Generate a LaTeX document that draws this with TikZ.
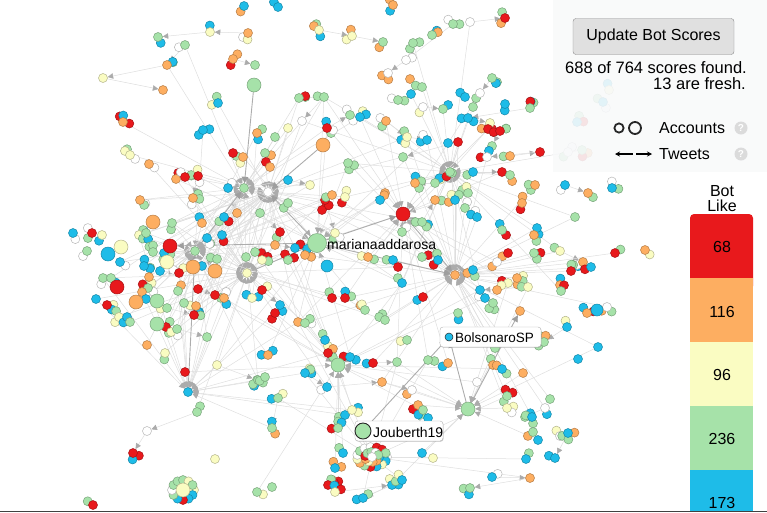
\documentclass[tikz,border=0pt]{standalone}
\usepackage{fontspec}
\setmainfont{Liberation Sans}
\usetikzlibrary{arrows.meta,shadows}

\definecolor{botr}{HTML}{E8191C}
\definecolor{boto}{HTML}{FDAE61}
\definecolor{boty}{HTML}{FAFCC2}
\definecolor{botg}{HTML}{A6E2A9}
\definecolor{botb}{HTML}{1EBCE8}
\definecolor{botw}{HTML}{FFFFFF}
\definecolor{panelbg}{HTML}{F8F9FA}

\pgfdeclarelayer{edges}
\pgfsetlayers{edges,main}
\pgfmathdeclarerandomlist{botmix}{{botr}{boto}{boty}{botg}{botg}{botg}{botb}{botb}{botw}}

\tikzset{
  dot/.style={circle,inner sep=0pt,minimum size=9pt,fill=#1,draw=#1!72!black,line width=0.5pt},
  big/.style={minimum size=14pt},
  tweet/.style={draw=black!13,line width=0.5pt,-{Triangle[length=5.5pt,width=5.5pt,color=black!33]}},
  strong/.style={draw=black!32,line width=0.9pt,-{Triangle[length=6.5pt,width=6.5pt,color=black!38]}},
  tag/.style={fill=white,draw=black!30,rounded corners=3pt,drop shadow={shadow xshift=0.6pt,shadow yshift=-0.8pt,opacity=0.35}},
  ui/.style={font=\fontsize{16}{18}\selectfont},
}

% accounts: x/y/colour
\def\dotlist{244/6/botb,248/33/boto,210/32/boty,158/37/botg,185/45/botg,167/65/boto,
103/78/boty,163/90/boto,233/59/boto,255/65/botg,218/103/botb,123/122/boto,203/130/botb,
257/133/boto,130/155/boty,149/164/boto,243/157/boto,233/153/botr,
278/7/botb,393/5/boto,319/30/boty,352/36/boty,383/42/botg,413/43/botg,432/35/botg,
453/24/botg,406/60/botw,388/73/botw,410/79/boto,411/94/botb,422/87/botg,398/100/botg,
423/107/botw,443/109/botg,299/98/botg,324/97/botg,302/121/botw,288/128/boty,275/137/botg,
327/128/botr,350/115/botg,360/117/botb,386/121/boto,407/137/boty,427/140/botb,448/143/botb,
458/142/botr,403/157/botg,348/163/botg,265/153/botg,
470/22/botw,505/18/botr,492/78/botg,480/93/botw,465/97/botb,473/107/botg,505/104/botb,
530/108/botg,468/118/botb,490/123/boty,488/129/botr,500/131/botr,492/146/botg,510/156/boto,
540/152/botr,487/157/botw,609/90/boty,603/102/botb,577/122/botb,582/150/botg,568/152/botw,
176/179/boto,185/177/botr,198/176/botr,193/198/boto,140/200/boto,228/188/botb,237/213/boto,
224/217/botb,202/223/boto,172/223/botg,73/233/botb,92/233/botr,102/235/boty,207/238/botb,
222/235/botb,139/235/boty,146/233/botg,87/251/botg,120/262/botb,164/253/botb,153/252/botg,
144/266/botb,160/271/botb,179/273/botr,202/266/botb,217/259/botg,246/257/botg,255/252/botg,
103/278/botg,111/278/botg,149/277/boto,148/288/botg,142/292/boto,146/299/botb,96/299/botb,
107/305/botr,178/291/botg,198/289/botr,215/295/botr,224/298/boto,252/298/boty,184/303/botg,
196/306/boto,167/308/botg,194/315/botr,119/317/boty,127/317/botb,130/322/botg,166/327/botr,
177/329/botg,207/337/botg,
147/345/boto,165/353/boty,185/372/botr,217/365/boty,257/380/botg,197/412/botg,147/431/botw,
133/453/botr,215/459/boty,93/505/botr,257/492/botg,
473/172/botb,502/172/botr,510/175/botg,535/185/boto,565/185/botb,588/193/boto,612/188/botb,
468/193/botg,465/208/botg,477/217/botb,522/203/boto,502/230/botg,575/217/botg,537/228/botb,
534/235/boto,508/253/botr,534/253/botg,560/251/boty,583/262/boto,591/267/botb,571/271/botr,
615/253/botr,645/250/boto,497/262/botw,473/270/botb,517/278/boto,508/283/boty,497/290/boto,
528/287/boty,480/290/botb,560/285/boto,561/291/botg,485/298/botb,493/303/botg,587/313/boto,
607/307/botw,567/327/botb,544/342/botg,495/348/botg,598/347/botb,578/359/botb,493/365/boto,
502/369/botb,523/373/boto,477/382/botw,507/396/botg,507/408/boty,550/399/botg,545/408/botw,
525/417/botg,532/417/botb,533/432/botg,538/440/botb,560/436/botw,568/433/botb,555/458/botb,
526/459/botb,492/477/botb,530/478/boto,470/488/botg,
322/210/botr,325/200/botr,335/233/boty,385/193/boto,380/200/botb,402/232/botg,422/222/botg,
435/200/boto,455/200/botb,393/260/botb,398/267/botr,402/283/botb,262/290/botr,280/305/botb,
275/313/botr,298/322/boto,332/298/botr,345/298/botr,365/310/botg,385/320/botg,423/297/botr,
407/340/botg,268/355/boto,325/340/botb,328/353/botr,350/357/botb,373/363/botr,397/362/botg,
305/373/botb,327/387/botb,382/382/boto,412/390/botw,418/405/boto,423/410/botg,428/418/botb,
345/415/botb,352/410/boty,338/428/botg,278/398/botg,272/428/botg,258/380/botg,422/453/botb,
433/458/boty,343/453/botb,335/468/botb,332/480/boto,328/485/botr,335/492/boty,392/485/botb,
363/498/botb,402/480/botb,
270/167/boto,288/180/botb,310/185/boty,332/195/boto,345/197/boty,260/213/botg,280/232/botr,
275/245/boto,295/248/botb,305/255/boto,368/257/boto,262/260/boty,288/260/botg,422/257/botg,
438/260/botb,435/183/botg,415/183/boto,452/173/botg,288/203/botg,458/313/botg,428/360/botg,
448/363/boto,305/323/botg,265/377/botg,272/487/botg}

% hubs: x/y/name/probability
\def\hublist{244/188/hA/0.38,268/192/hB/0.38,195/251/hC/0.38,247/273/hD/0.38,455/275/hE/0.38,
450/172/hF/0.3,188/392/hG/0.35,338/365/hH/0.25,317/243/mariana/0.14,403/214/redhub/0.12,
468/409/greenhub/0.12,372/455/hJ/0.18}

\def\lastx{0}
\def\lasty{0}

\begin{document}
\begin{tikzpicture}[x=1pt,y=-1pt]
\useasboundingbox (0,0) rectangle (767,512);
\clip (0,0) rectangle (767,512);
\pgfmathsetseed{31}

% accounts, with a few neighbours each
\foreach \x/\y/\c [count=\i] in \dotlist {
  \foreach \m in {1,2,3} {
    \pgfmathsetmacro{\keep}{rnd}
    \ifdim\keep pt<0.42pt
      \pgfmathsetmacro{\a}{360*rnd}
      \pgfmathsetmacro{\qx}{\x+6.5*cos(\a)}
      \pgfmathsetmacro{\qy}{\y+6.5*sin(\a)}
      \pgfmathrandomitem{\rc}{botmix}
      \node[dot=\rc] (m\i-\m) at (\qx,\qy) {};
    \fi
  }
  \node[dot=\c] (n\i) at (\x,\y) {};
}

% clusters round Jouberth19 and bottom left
\foreach \a [count=\k] in {0,24,...,336} {
  \pgfmathrandomitem{\rc}{botmix}
  \node[dot=\rc] (jring\k) at ({372+15*cos(\a)},{457+10*sin(\a)}) {};
}
\foreach \a [count=\k] in {12,48,...,336} {
  \pgfmathrandomitem{\rc}{botmix}
  \node[dot=\rc] (jinner\k) at ({372+7*cos(\a)},{457+5*sin(\a)}) {};
}
\foreach \a [count=\k] in {0,30,...,330} {
  \pgfmathrandomitem{\rc}{botmix}
  \node[dot=\rc] (lring\k) at ({183+11*cos(\a)},{490+10*sin(\a)}) {};
}

% hubs
\node[dot=botg] (hA) at (244,188) {};
\node[dot=botw] (hB) at (268,192) {};
\node[dot=botg] (hC) at (195,251) {};
\node[dot=boty] (hD) at (247,273) {};
\node[dot=boto] (hE) at (455,275) {};
\node[dot=botg] (hF) at (450,172) {};
\node[dot=botb] (hG) at (188,392) {};
\node[dot=botw] (hJ) at (372,457) {};

% large accounts
\node[dot=botg,big] (greentop) at (254,85) {};
\node[dot=boto,big] (orangetop) at (323,145) {};
\node[dot=boto,big] (orangeleft) at (153,222) {};
\node[dot=botr,big] (redleft) at (170,246) {};
\node[dot=botb,big] (blueleft) at (108,254) {};
\node[dot=boty,big] (yellowleft) at (121,247) {};
\node[dot=boty,big] (yellowmid) at (167,262) {};
\node[dot=botr,big] (redlow) at (117,287) {};
\node[dot=boto,big] (orangelow) at (136,302) {};
\node[dot=botg,big] (greenlow) at (157,301) {};
\node[dot=botg,big] (greenbot) at (157,324) {};
\node[dot=boto,big] (orangec) at (193,267) {};
\node[dot=boto,big] (oranged) at (215,271) {};
\node[dot=botb,minimum size=12pt] (bluemid) at (327,266) {};
\node[dot=boty,big] (yellowbot) at (183,490) {};
\node[dot=botb,minimum size=12pt] (blueright) at (597,310) {};
\node[dot=boto] (orangeright) at (520,311) {};
\node[dot=botr,big] (redhub) at (403,214) {};
\node[dot=botg,big] (greenhub) at (468,409) {};
\node[dot=botg,big] (hH) at (338,365) {};
\node[dot=botg,minimum size=19pt] (mariana) at (317,243) {};

% labelled accounts
\node[anchor=base west,inner sep=0pt,font=\fontsize{14}{16}\selectfont] (marianatext) at (327,249) {marianaaddarosa};
\path[tag] (440,327) rectangle (541,347);
\node[dot=botb,minimum size=8pt,draw=black!85] (bolsonaro) at (449,337) {};
\node[anchor=base west,inner sep=0pt,font=\fontsize{13.5}{16}\selectfont] (bolsonarotext) at (455,342) {BolsonaroSP};
\path[tag] (355,421) rectangle (443,441);
\node[dot=botg,minimum size=16pt,draw=black!85,line width=0.9pt] (jouberth) at (363,431) {};
\node[anchor=base west,inner sep=0pt,font=\fontsize{14}{16}\selectfont] (jouberthtext) at (373,437) {Jouberth19};

% tweets
\begin{pgfonlayer}{edges}
\foreach \x/\y/\c [count=\i] in \dotlist {
  \foreach \hx/\hy/\hn/\hp in \hublist {
    \pgfmathsetmacro{\d}{veclen(\x-\hx,\y-\hy)}
    \pgfmathsetmacro{\q}{rnd}
    \ifdim\d pt<165pt
      \ifdim\q pt<\hp pt
        \draw[tweet] (n\i) -- (\hn);
      \fi
    \fi
  }
  \ifnum\i>1
    \pgfmathtruncatemacro{\prev}{\i-1}
    \pgfmathsetmacro{\d}{veclen(\x-\lastx,\y-\lasty)}
    \pgfmathsetmacro{\q}{rnd}
    \ifdim\d pt<70pt \ifdim\d pt>16pt \ifdim\q pt<0.45pt
      \draw[tweet] (n\prev) -- (n\i);
    \fi\fi\fi
  \fi
  \xdef\lastx{\x}\xdef\lasty{\y}
}
\draw[strong] (mariana) -- (redhub);
\draw[strong] (mariana) -- (hE);
\draw[strong] (mariana) -- (redleft);
\draw[strong] (mariana) -- (hB);
\draw[strong] (redhub) -- (hE);
\draw[strong] (greentop) -- (hA);
\draw[strong] (orangetop) -- (hB);
\draw[strong] (greenhub) -- (orangeright);
\draw[strong] (greenhub) -- (bolsonaro);
\draw[strong] (jouberth) -- (bolsonaro);
\draw[strong] (hC) -- (hA);
\draw[strong] (hD) -- (mariana);
\draw[strong] (hG) -- (hC);
\end{pgfonlayer}

% score panel
\fill[panelbg,opacity=0.9] (553,0) rectangle (767,172);
\node[ui,draw=black!45,fill=black!12,rounded corners=3pt,minimum width=161pt,minimum height=36pt,inner sep=0pt] (update) at (653.5,36.5) {Update Bot Scores};
\node[anchor=base east,inner sep=0pt,font=\fontsize{16.5}{18}\selectfont] (found) at (747,73.5) {688 of 764 scores found.};
\node[anchor=base east,inner sep=0pt,font=\fontsize{16.5}{18}\selectfont] (fresh) at (746,89.5) {13 are fresh.};
\draw[line width=1.8pt,black!85] (619,128) circle (4.6pt);
\draw[line width=1.8pt,black!85] (635,128) circle (6pt);
\node[ui,anchor=base west,inner sep=0pt] (accounts) at (659,133.5) {Accounts};
\node[circle,fill=black!14,minimum size=13pt,inner sep=0pt,text=white,font=\bfseries\fontsize{10}{10}\selectfont] (helpacc) at (741,128) {?};
\draw[-{Stealth[length=5pt,width=5pt]},line width=1.3pt] (633,154) -- (615,154);
\draw[-{Stealth[length=5pt,width=5pt]},line width=1.3pt] (636,154) -- (652,154);
\node[ui,anchor=base west,inner sep=0pt] (tweets) at (659,159) {Tweets};
\node[circle,fill=black!14,minimum size=13pt,inner sep=0pt,text=white,font=\bfseries\fontsize{10}{10}\selectfont] (helptw) at (741,154) {?};

% bot score bar
\node[ui,anchor=base,inner sep=0pt] (botword) at (722,196) {Bot};
\node[ui,anchor=base,inner sep=0pt] (likeword) at (722,211) {Like};
\fill[botr,rounded corners=4pt] (690,214) rectangle (753,290);
\fill[boto] (690,278) rectangle (753,342);
\fill[boty] (690,342) rectangle (753,406);
\fill[botg] (690,406) rectangle (753,470);
\fill[botb] (690,470) rectangle (753,512);
\node[ui,anchor=base,inner sep=0pt] (countr) at (722,252) {68};
\node[ui,anchor=base,inner sep=0pt] (counto) at (722,317) {116};
\node[ui,anchor=base,inner sep=0pt] (county) at (722,380) {96};
\node[ui,anchor=base,inner sep=0pt] (countg) at (722,444) {236};
\node[ui,anchor=base,inner sep=0pt] (countb) at (722,508) {173};

\draw[black!75,line width=0.8pt] (0,511.6) -- (767,511.6);
\end{tikzpicture}
\end{document}
